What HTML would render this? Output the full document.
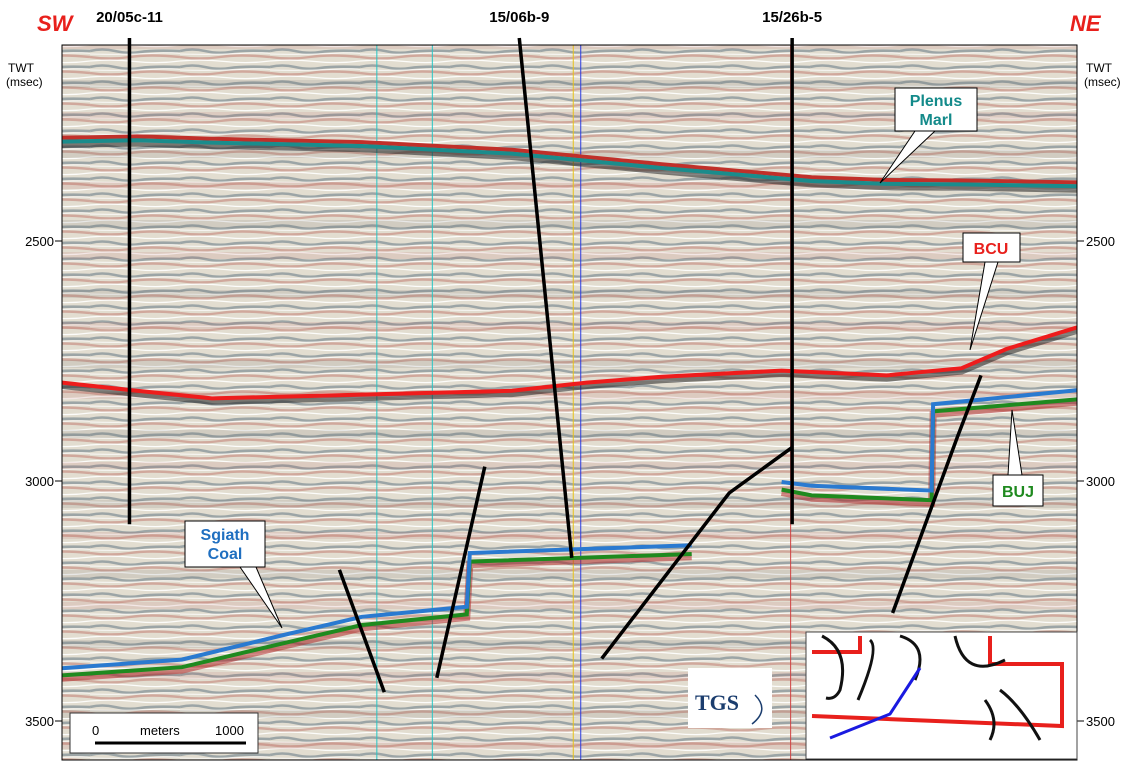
<!DOCTYPE html>
<html><head><meta charset="utf-8">
<style>
body{margin:0;background:#fff;font-family:"Liberation Sans",sans-serif;}
#wrap{position:relative;width:1135px;height:774px;overflow:hidden;background:#fff;}
</style></head>
<body>
<div id="wrap">
<svg id="chart" width="1135" height="774" xmlns="http://www.w3.org/2000/svg">
<defs>
<pattern id="seis" width="90" height="16" patternUnits="userSpaceOnUse">
<rect width="90" height="16" fill="#e2ddd0"/>
<path d="M0 3 Q12 0 25 3 T50 4 T90 3" stroke="#7f8e95" stroke-width="2.6" fill="none" opacity="0.7"/>
<path d="M0 9 Q20 12 40 9 T90 9" stroke="#c4867a" stroke-width="2.4" fill="none" opacity="0.6"/>
<path d="M0 13 Q22 11 45 13.5 T90 13" stroke="#ffffff" stroke-width="1.3" fill="none" opacity="0.9"/>
<path d="M0 6 Q30 7 60 5.5 T90 6" stroke="#ffffff" stroke-width="1" fill="none" opacity="0.8"/>
</pattern>
<pattern id="bands" width="400" height="70" patternUnits="userSpaceOnUse">
<rect width="400" height="70" fill="none"/>
<rect x="0" y="10" width="400" height="8" fill="#555" opacity="0.12"/>
<rect x="0" y="42" width="400" height="7" fill="#a33" opacity="0.1"/>
</pattern>
<clipPath id="plotclip"><rect x="62" y="45" width="1015" height="715"/></clipPath>
</defs>
<rect x="62" y="45" width="1015" height="715" fill="url(#seis)"/>
<rect x="62" y="45" width="1015" height="715" fill="url(#bands)"/>
<g id="vlines" clip-path="url(#plotclip)"></g>
<g id="horizons" clip-path="url(#plotclip)"></g>
<g id="faults" clip-path="url(#plotclip)"></g>
<g id="wells"></g>
<g id="axes"></g>
<text x="37" y="31" fill="#e8201c" font-size="22" font-weight="bold" font-style="italic">SW</text>
<text x="1070" y="31" fill="#e8201c" font-size="22" font-weight="bold" font-style="italic">NE</text>
<text x="8" y="72" font-size="12">TWT</text>
<text x="6" y="86" font-size="12">(msec)</text>
<text x="1086" y="72" font-size="12">TWT</text>
<text x="1084" y="86" font-size="12">(msec)</text>
<g>
<polygon points="915,131 935,131 880,183" fill="#fff" stroke="#000"/>
<rect x="895" y="88" width="82" height="43" fill="#fff" stroke="#000"/>
<text x="936" y="106" text-anchor="middle" fill="#138a8a" font-size="16" font-weight="bold">Plenus</text>
<text x="936" y="125" text-anchor="middle" fill="#138a8a" font-size="16" font-weight="bold">Marl</text>
</g>
<g>
<polygon points="985,262 998,262 970,350" fill="#fff" stroke="#000"/>
<rect x="963" y="233" width="57" height="29" fill="#fff" stroke="#000"/>
<text x="991" y="254" text-anchor="middle" fill="#e8201c" font-size="16" font-weight="bold">BCU</text>
</g>
<g>
<polygon points="1008,475 1022,475 1012,410" fill="#fff" stroke="#000"/>
<rect x="993" y="475" width="50" height="31" fill="#fff" stroke="#000"/>
<text x="1018" y="497" text-anchor="middle" fill="#1f8a1f" font-size="16" font-weight="bold">BUJ</text>
</g>
<g>
<polygon points="240,567 256,567 282,628" fill="#fff" stroke="#000"/>
<rect x="185" y="521" width="80" height="46" fill="#fff" stroke="#000"/>
<text x="225" y="540" text-anchor="middle" fill="#1f6fc0" font-size="16" font-weight="bold">Sgiath</text>
<text x="225" y="559" text-anchor="middle" fill="#1f6fc0" font-size="16" font-weight="bold">Coal</text>
</g>
<g>
<rect x="70" y="713" width="188" height="40" fill="#fff" stroke="#333"/>
<text x="92" y="735" font-size="13">0</text>
<text x="140" y="735" font-size="13">meters</text>
<text x="215" y="735" font-size="13">1000</text>
<line x1="95" y1="743" x2="246" y2="743" stroke="#000" stroke-width="3"/>
</g>
<g>
<rect x="688" y="668" width="84" height="60" fill="#fff"/>
<text x="695" y="710" font-size="22" font-weight="bold" fill="#1b3d6e" font-family="Liberation Serif,serif">TGS</text>
<path d="M755 695 Q770 710 752 724" stroke="#1b3d6e" fill="none" stroke-width="1.5"/>
</g>
<g>
<rect x="806" y="632" width="271" height="127" fill="#fff" stroke="#444"/>
<polyline points="812,652 860,652 860,636" stroke="#e8201c" stroke-width="4" fill="none"/>
<polyline points="990,636 990,664 1062,664 1062,726 812,716" stroke="#e8201c" stroke-width="4" fill="none"/>
<path d="M822 636 Q850 650 840 690 Q835 700 826 698 M870 640 Q880 648 858 700 M900 636 Q930 645 915 680 M955 636 Q965 680 1005 660 M1000 690 Q1020 705 1040 740 M985 700 Q1000 720 990 740" stroke="#111" stroke-width="3" fill="none"/>
<polyline points="830,738 890,714 920,668" stroke="#1a1ae0" stroke-width="3" fill="none"/>
</g>
</svg>
</div>
<script>
const xDomain=[0,6770], xRange=[62,1077];
const tDomain=[2000,3500], tRange=[1,721];
function X(v){return xRange[0]+(v-xDomain[0])/(xDomain[1]-xDomain[0])*(xRange[1]-xRange[0]);}
function Y(t){return tRange[0]+(t-tDomain[0])/(tDomain[1]-tDomain[0])*(tRange[1]-tRange[0]);}
const tickLabels=[2500,3000,3500];

const plenusX=[0,500,1000,2000,3000,4000,5000,5500,6000,6770];
const plenusT=[2293,2290,2295,2302,2318,2348,2375,2381,2382,2386];
const bcuX=[0,500,1000,2000,3000,3500,4000,4800,5500,6000,6300,6770];
const bcuT=[2795,2812,2828,2820,2812,2795,2783,2770,2780,2765,2725,2680];
const coalX=[0,800,1450,2000,2700,2720,4200,4400,4800,5000,5800,5810,6770];
const coalT=[3390,3372,3323,3283,3262,3150,3134,null,3002,3010,3020,2840,2811];
const bujX=[0,800,1450,2000,2700,2720,4200,4400,4800,5000,5800,5810,6770];
const bujT=[3405,3388,3340,3300,3278,3168,3152,null,3018,3030,3040,2855,2830];

const wellNames=["20/05c-11","15/06b-9","15/26b-5"];
const wellXTop=[450,3050,4870], wellXBot=[450,3400,4870];
const wellTBot=[3090,3160,3090];
const faultX=[[1850,2150],[2820,2500],[3600,4450,4870],[6130,5970,5540]];
const faultT=[[3185,3440],[2970,3410],[3370,3025,2930],[2780,2910,3275]];
const markerX=[2100,2470,3410,3460,4860];
const markerColor=["#26c4c4","#26c4c4","#e6c21a","#2a3ae0","#d04040"];

const NS="http://www.w3.org/2000/svg";
function mk(tag,attrs,parent){const e=document.createElementNS(NS,tag);for(const k in attrs)e.setAttribute(k,attrs[k]);parent.appendChild(e);return e;}
function pathFrom(xs,ts){let d="",pen=false;for(let i=0;i<xs.length;i++){if(ts[i]==null){pen=false;continue;}d+=(pen?"L":"M")+X(xs[i]).toFixed(1)+" "+Y(ts[i]).toFixed(1)+" ";pen=true;}return d;}

const vl=document.getElementById('vlines');
markerX.forEach((m,i)=>{
 const l=mk('line',{x1:X(m),x2:X(m),y1:45,y2:760,stroke:markerColor[i],'stroke-width':1},vl);
 
 
});

const hz=document.getElementById('horizons');
function horizon(xs,ts,col,name,under){
 if(under){const u=mk('path',{d:pathFrom(xs,ts.map(t=>t==null?null:t+6)),stroke:under,'stroke-width':7,fill:'none',opacity:0.55},hz);
 
 }
 const p=mk('path',{d:pathFrom(xs,ts),stroke:col,'stroke-width':4,fill:'none'},hz);
 
 
}
horizon(plenusX,plenusT.map(t=>t-8),'#c0302a','plenus-marl-red-band',null);
horizon(plenusX,plenusT,'#1a8c8c','plenus-marl-horizon','#222');
horizon(bcuX,bcuT,'#ee1c1c','bcu-horizon','#222');
horizon(bujX,bujT,'#1f8a1f','buj-horizon','#b02a2a');
horizon(coalX,coalT,'#2a7ad0','sgiath-coal-horizon',null);

const fg=document.getElementById('faults');
faultX.forEach((fx,i)=>{
 const p=mk('path',{d:pathFrom(fx,faultT[i]),stroke:'#000','stroke-width':3.5,fill:'none'},fg);
 
 
});

const wg=document.getElementById('wells');
wellNames.forEach((n,i)=>{
 const l=mk('line',{x1:X(wellXTop[i]),y1:38,x2:X(wellXBot[i]),y2:Y(wellTBot[i]),stroke:'#000','stroke-width':3.5},wg);
 
 
 const t=mk('text',{x:X(wellXTop[i]),y:22,'text-anchor':'middle','font-size':15,'font-weight':'bold'},wg);
 t.textContent=n;
 
 
});

const ag=document.getElementById('axes');
tickLabels.forEach(v=>{
 const y=Y(v);
 [[55,62],[1077,1084]].forEach(([a,b])=>{const l=mk('line',{x1:a,x2:b,y1:y,y2:y,stroke:'#000'},ag);
 
 });
 const t1=mk('text',{x:54,y:y+5,'text-anchor':'end','font-size':13},ag);t1.textContent=v;
 
 
 const t2=mk('text',{x:1086,y:y+5,'font-size':13},ag);t2.textContent=v;
 
 
});
const fr=mk('rect',{x:62,y:45,width:1015,height:715,fill:'none',stroke:'#000'},ag);


</script>
</body></html>
